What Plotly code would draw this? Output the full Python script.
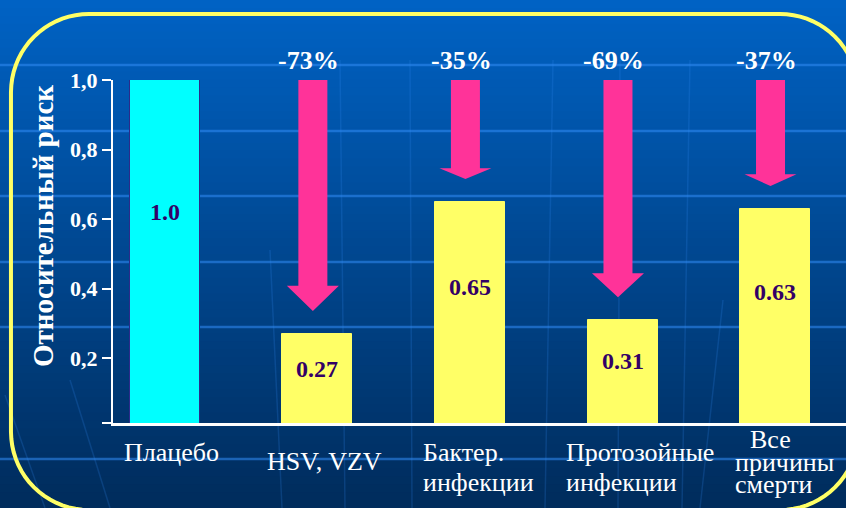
import math
import plotly.graph_objects as go

# ---------------- data ----------------
categories = ["Плацебо", "HSV, VZV", "Бактер. инфекции", "Протозойные инфекции", "Все причины смерти"]
label_lines = [["Плацебо"], ["HSV, VZV"], ["Бактер.", "инфекции"],
               ["Протозойные", "инфекции"], ["Все", "причины", "смерти"]]
risk = [1.0, 0.27, 0.65, 0.31, 0.63]
risk_labels = ["1.0", "0.27", "0.65", "0.31", "0.63"]
reduction_labels = ["", "-73%", "-35%", "-69%", "-37%"]
y_tickvals = [0.2, 0.4, 0.6, 0.8, 1.0]
y_ticktext = ["0,2", "0,4", "0,6", "0,8", "1,0"]
y_title = "Относительный риск"

# ---------------- layout geometry ----------------
W, H = 846, 508
ML, MR, MT, MB = 113, 0, 80, 85
PW, PH = W - ML - MR, H - MT - MB
Y0, Y1 = 0.013, 1.0
SP = 152.55            # px per category
C2 = 470               # px of category index 2
XR = [2 + (ML - C2) / SP, 2 + (W - MR - C2) / SP]
FONT = "Liberation Serif"


def pxx(p):
    return (p - ML) / PW


def pxy(p):
    return (H - MB - p) / PH


xs = list(range(len(categories)))
shapes = []
annotations = []

# background gradient
top_c, bot_c = (0, 98, 196), (0, 44, 92)
N = 64
for k in range(N):
    t = k / (N - 1)
    c = tuple(int(round(top_c[j] + (bot_c[j] - top_c[j]) * t)) for j in range(3))
    shapes.append(dict(type="rect", xref="paper", yref="paper", layer="below",
                       x0=pxx(0), x1=pxx(W), y0=pxy(H * k / N), y1=pxy(H * (k + 1) / N + 1),
                       fillcolor="rgb(%d,%d,%d)" % c, line=dict(width=0)))
# faint globe lines
for gy in [65, 131, 196, 262, 327, 459]:
    shapes.append(dict(type="line", xref="paper", yref="paper", layer="below",
                       x0=pxx(0), x1=pxx(W), y0=pxy(gy), y1=pxy(gy),
                       line=dict(color="rgba(50,140,245,0.55)", width=2.5)))
for (xa, ya, xb, yb) in [(5, 395, 45, 508), (70, 380, 110, 508), (270, 250, 282, 508),
                         (340, 60, 345, 508), (410, 60, 412, 508), (553, 60, 545, 508),
                         (620, 60, 618, 508), (690, 60, 682, 508), (723, 300, 700, 508)]:
    shapes.append(dict(type="line", xref="paper", yref="paper", layer="below",
                       x0=pxx(xa), x1=pxx(xb), y0=pxy(ya), y1=pxy(yb),
                       line=dict(color="rgba(50,140,245,0.2)", width=1.5)))

# yellow rounded frame
bx0, by0, bx1, by1, r = 11, 14, 858, 510, 78
pts = []
for (cx, cy, a0) in [(bx1 - r, by0 + r, -90), (bx1 - r, by1 - r, 0), (bx0 + r, by1 - r, 90), (bx0 + r, by0 + r, 180)]:
    for s in range(0, 19):
        a = math.radians(a0 + s * 5)
        pts.append((cx + r * math.cos(a), cy + r * math.sin(a)))
path = "M " + " L ".join("%.4f,%.4f" % (pxx(px), pxy(py)) for px, py in pts) + " Z"
shapes.append(dict(type="path", xref="paper", yref="paper", layer="below", path=path,
                   line=dict(color="#ffff66", width=4)))

# arrows
sw, hw = 14.5 / SP, 26 / SP
for i in xs:
    if not reduction_labels[i]:
        continue
    x = i - 0.03
    top = Y1
    tip = risk[i] + 0.065
    hh = 0.11 * (top - tip)
    p = ("M %f,%f L %f,%f L %f,%f L %f,%f L %f,%f L %f,%f L %f,%f Z" %
         (x - sw, top, x + sw, top, x + sw, tip + hh, x + hw, tip + hh, x, tip,
          x - hw, tip + hh, x - sw, tip + hh))
    shapes.append(dict(type="path", xref="x", yref="y", layer="above", path=p,
                       fillcolor="#ff3399", line=dict(width=0)))
    annotations.append(dict(x=x, y=pxy(60), xref="x", yref="paper", xshift=-4,
                            text="<b>%s</b>" % reduction_labels[i], showarrow=False,
                            font=dict(family=FONT, size=26, color="white"),
                            xanchor="center", yanchor="middle"))

# bar value labels
for i in xs:
    annotations.append(dict(x=i, y=risk[i] * 0.62, xref="x", yref="y",
                            text="<b>%s</b>" % risk_labels[i], showarrow=False,
                            font=dict(family=FONT, size=24, color="#330066"),
                            xanchor="center", yanchor="middle"))

# category labels (one annotation per line)
label_fmt = [
    [(7, "center", 452)],
    [(7.5, "center", 461)],
    [(-49, "left", 452), (-49, "left", 483)],
    [(-58.5, "left", 452), (-58.5, "left", 483)],
    [(-27, "left", 439), (-42, "left", 462), (-42, "left", 485)],
]
for i in xs:
    for line, (xsft, anc, ypx) in zip(label_lines[i], label_fmt[i]):
        annotations.append(dict(x=i, y=pxy(ypx), xref="x", yref="paper", xshift=xsft,
                                text=line, showarrow=False, xanchor=anc, yanchor="middle",
                                font=dict(family=FONT, size=26, color="white")))

# y axis title
annotations.append(dict(x=pxx(43), y=pxy(226), xref="paper", yref="paper",
                        text="<b>%s</b>" % y_title, textangle=-90, showarrow=False,
                        xanchor="center", yanchor="middle",
                        font=dict(family=FONT, size=29, color="white")))

fig = go.Figure()
fig.add_trace(go.Bar(
    x=xs, y=risk, width=70 / SP,
    marker=dict(color=["#00ffff"] + ["#ffff66"] * 4,
                line=dict(color=["#2b2b8a"] + ["#ffff66"] * 4, width=1)),
    hoverinfo="skip", showlegend=False,
))

fig.update_layout(
    width=W, height=H,
    margin=dict(l=ML, r=MR, t=MT, b=MB, pad=0),
    paper_bgcolor="#004a96", plot_bgcolor="rgba(0,0,0,0)",
    bargap=0,
    shapes=shapes, annotations=annotations,
    xaxis=dict(range=XR, showgrid=False, zeroline=False, showticklabels=False,
               showline=True, linecolor="white", linewidth=3, ticks="", fixedrange=True),
    yaxis=dict(range=[Y0, Y1], showgrid=False, zeroline=False,
               showline=True, linecolor="white", linewidth=2,
               tickvals=[Y0] + y_tickvals, ticktext=[""] + ["<b>%s</b>" % t for t in y_ticktext],
               ticks="outside", ticklen=9, tickwidth=2, tickcolor="white",
               tickfont=dict(family=FONT, size=22, color="white"), fixedrange=True),
)

fig.write_html("out.html", config={"displayModeBar": False},
               post_script="document.body.style.margin='0';document.body.style.overflow='hidden';")
